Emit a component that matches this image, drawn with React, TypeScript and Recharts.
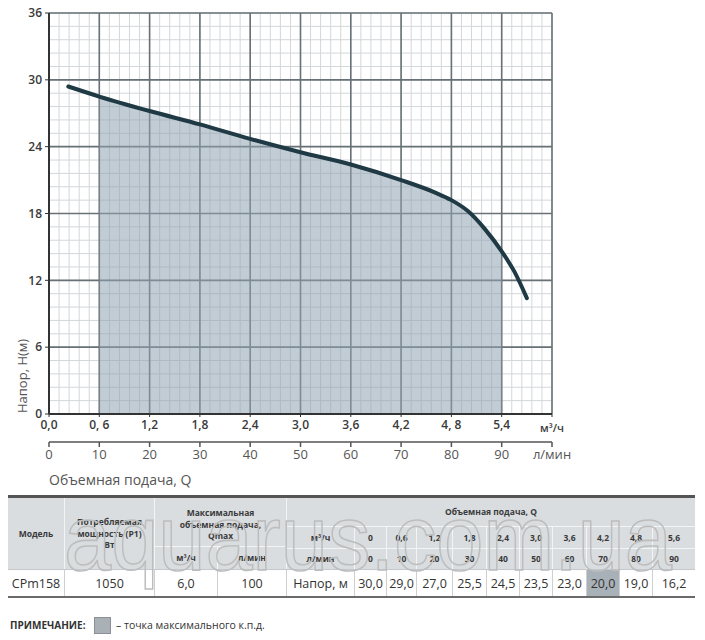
import React from 'react';
import { ComposedChart, Line, Area, XAxis, YAxis, CartesianGrid, Label } from 'recharts';

// ---- Curve data ----
const flowM3h = [0.23, 0.6, 1.2, 1.8, 2.4, 3.0, 3.6, 4.2, 4.6, 4.8, 5.0, 5.2, 5.4, 5.55, 5.7];
const headM = [29.4, 28.5, 27.2, 26.0, 24.7, 23.5, 22.4, 21.0, 19.9, 19.2, 18.2, 16.6, 14.6, 12.8, 10.4];
const shadeFrom = 0.6;
const shadeTo = 5.4;
const LPM_PER_M3H = 1000 / 60; // unit conversion m³/h -> l/min

// ---- Axis ticks ----
const xTicks = [0, 0.6, 1.2, 1.8, 2.4, 3.0, 3.6, 4.2, 4.8, 5.4, 6.0];
const xTickLabels = ['0,0', '0, 6', '1,2', '1,8', '2,4', '3,0', '3,6', '4,2', '4, 8', '5,4', 'м³/ч'];
const lpmTicks = [0, 10, 20, 30, 40, 50, 60, 70, 80, 90, 100];
const lpmTickLabels = ['0', '10', '20', '30', '40', '50', '60', '70', '80', '90', 'л/мин'];
const yTicks = [0, 6, 12, 18, 24, 30, 36];
const yTickLabels = ['0', '6', '12', '18', '24', '30', '36'];

// ---- Table data ----
const tableFlowM3h = ['0', '0,6', '1,2', '1,8', '2,4', '3,0', '3,6', '4,2', '4,8', '5,6'];
const tableFlowLpm = ['0', '10', '20', '30', '40', '50', '60', '70', '80', '90'];
const tableHead = ['30,0', '29,0', '27,0', '25,5', '24,5', '23,5', '23,0', '20,0', '19,0', '16,2'];
const bestIndex = 7;
const modelName = 'CPm158';
const powerW = '1050';
const qmaxM3h = '6,0';
const qmaxLpm = '100';

// minor grid (not data – just grid subdivisions)
const minorX = Array.from({ length: 51 }, (_, i) => Math.round(i * 12) / 100);
const minorY = Array.from({ length: 31 }, (_, i) => Math.round(i * 12) / 10);

const data = flowM3h.map((q, i) => ({
  q,
  lpm: q * LPM_PER_M3H,
  h: headM[i],
  shade: q >= shadeFrom - 1e-9 && q <= shadeTo + 1e-9 ? headM[i] : null,
}));

const FONT = '"Open Sans", "Noto Sans", sans-serif';

const QTick = (props: any) => {
  const { x, y, payload } = props;
  const i = xTicks.findIndex((t) => Math.abs(t - payload.value) < 1e-6);
  const label = xTickLabels[i] ?? '';
  const last = i === xTicks.length - 1;
  return (
    <text
      x={x}
      y={y + (last ? 4 : 0)}
      dy="0.71em"
      textAnchor="middle"
      fontSize={last ? 11 : 12}
      fontWeight={600}
      fill="#3a3a3a"
      fontFamily={FONT}
    >
      {label}
    </text>
  );
};

const LTick = (props: any) => {
  const { x, y, payload } = props;
  const i = lpmTicks.findIndex((t) => Math.abs(t - payload.value) < 1e-6);
  const label = lpmTickLabels[i] ?? '';
  return (
    <text x={x} y={y} dy="0.71em" textAnchor="middle" fontSize={13} fill="#555" fontFamily={FONT}>
      {label}
    </text>
  );
};

const YTick = (props: any) => {
  const { x, y, payload } = props;
  const i = yTicks.findIndex((t) => Math.abs(t - payload.value) < 1e-6);
  return (
    <text x={x} y={y} dy="0.35em" textAnchor="end" fontSize={12} fontWeight={600} fill="#3a3a3a" fontFamily={FONT}>
      {yTickLabels[i] ?? ''}
    </text>
  );
};

const colEdges = [355, 387, 417, 453, 487, 520, 553, 587, 620, 653, 695];

const Cell = ({ x, y, w, h, children, style }: any) => (
  <div
    style={{
      position: 'absolute',
      left: x,
      top: y,
      width: w,
      height: h,
      display: 'flex',
      alignItems: 'center',
      justifyContent: 'center',
      textAlign: 'center',
      boxSizing: 'border-box',
      ...style,
    }}
  >
    {children}
  </div>
);

const HDR_BG = '#d9dde0';
const hdrText: React.CSSProperties = { fontSize: 8.5, fontWeight: 700, color: '#3a3a3a', lineHeight: '11.5px', fontFamily: FONT };
const rowText: React.CSSProperties = { fontSize: 12.5, color: '#333', fontFamily: FONT };
const hSep = '1px solid #f2f4f5';
const rSep = '1px solid #cfcfcf';

export default function App() {
  return (
    <div style={{ position: 'absolute', left: 0, top: 0, width: 705, height: 640, background: '#fff', overflow: 'hidden' }}>
      <div style={{ position: 'absolute', left: 0, top: 0 }}>
        <ComposedChart
          width={705}
          height={506}
          data={data}
          margin={{ top: 13, right: 153, bottom: 0, left: 0 }}
          style={{ fontFamily: FONT }}
        >
          <CartesianGrid xAxisId="a" verticalValues={minorX} horizontalValues={minorY} stroke="#d2d7da" strokeWidth={1} />
          <CartesianGrid xAxisId="a" verticalValues={xTicks} horizontalValues={yTicks} stroke="#677176" strokeWidth={1.6} />
          <XAxis
            xAxisId="b"
            type="number"
            dataKey="lpm"
            domain={[0, 100]}
            ticks={lpmTicks}
            interval={0}
            allowDataOverflow
            height={64}
            tickSize={5}
            tickMargin={3}
            axisLine={{ stroke: '#555', strokeWidth: 1.5 }}
            tickLine={{ stroke: '#555', strokeWidth: 1.5 }}
            tick={<LTick />}
          >
            <Label
              content={(p: any) => {
                const vb = p.viewBox || { x: 49, y: 442 };
                return (
                  <text x={vb.x} y={vb.y + 38} dy="0.35em" fontSize={14} fill="#555" fontFamily={FONT}>
                    Объемная подача, Q
                  </text>
                );
              }}
            />
          </XAxis>
          <XAxis
            xAxisId="a"
            type="number"
            dataKey="q"
            domain={[0, 6]}
            ticks={xTicks}
            interval={0}
            allowDataOverflow
            height={28}
            tickSize={3}
            tickMargin={3}
            axisLine={{ stroke: '#333', strokeWidth: 2 }}
            tickLine={{ stroke: '#333' }}
            tick={<QTick />}
          />
          <YAxis
            type="number"
            domain={[0, 36]}
            ticks={yTicks}
            interval={0}
            allowDataOverflow
            width={49}
            tickSize={4}
            tickMargin={3}
            axisLine={{ stroke: '#333', strokeWidth: 2 }}
            tickLine={{ stroke: '#333' }}
            tick={<YTick />}
          >
            <Label
              content={(p: any) => {
                const vb = p.viewBox || { x: 0, y: 13, height: 401 };
                const bx = 27;
                const by = vb.y + vb.height - 1;
                return (
                  <text
                    x={bx}
                    y={by}
                    transform={`rotate(-90, ${bx}, ${by})`}
                    textAnchor="start"
                    fontSize={13}
                    fill="#555"
                    fontFamily={FONT}
                  >
                    Напор, H(м)
                  </text>
                );
              }}
            />
          </YAxis>
          <Area
            xAxisId="a"
            dataKey="shade"
            type="monotone"
            fill="#8fa2b0"
            fillOpacity={0.55}
            stroke="none"
            connectNulls={false}
            isAnimationActive={false}
            dot={false}
            activeDot={false}
          />
          <Line
            xAxisId="a"
            dataKey="h"
            type="monotone"
            stroke="#1f3a44"
            strokeWidth={4}
            strokeLinecap="round"
            dot={false}
            activeDot={false}
            isAnimationActive={false}
          />
        </ComposedChart>
      </div>

      {/* ---- Table ---- */}
      <div style={{ position: 'absolute', left: 8, top: 495, width: 687, height: 3, background: '#555' }} />
      <div style={{ position: 'absolute', left: 8, top: 498, width: 687, height: 71, background: HDR_BG }} />
      <Cell x={8} y={498} w={57} h={71} style={{ ...hdrText, borderRight: hSep }}>Модель</Cell>
      <Cell x={65} y={498} w={90} h={71} style={{ ...hdrText, borderRight: hSep }}>
        Потребляемая<br />мощность (P1)<br />Вт
      </Cell>
      <Cell x={155} y={498} w={132} h={49} style={{ ...hdrText, borderRight: hSep, borderBottom: hSep, alignItems: 'flex-start', paddingTop: 9 }}>
        Максимальная<br />объемная подача,<br />Qmax
      </Cell>
      <Cell x={155} y={547} w={63} h={22} style={{ ...hdrText, borderRight: hSep }}>м³/ч</Cell>
      <Cell x={218} y={547} w={69} h={22} style={{ ...hdrText, borderRight: hSep }}>л/мин</Cell>
      <Cell x={287} y={498} w={408} h={29} style={{ ...hdrText, borderBottom: hSep }}>Объемная подача, Q</Cell>
      <Cell x={287} y={527} w={68} h={22} style={{ ...hdrText, borderRight: hSep, borderBottom: hSep }}>м³/ч</Cell>
      <Cell x={287} y={549} w={68} h={20} style={{ ...hdrText, borderRight: hSep }}>л/мин</Cell>
      {tableFlowM3h.map((v, i) => (
        <Cell key={'m' + i} x={colEdges[i]} y={527} w={colEdges[i + 1] - colEdges[i]} h={22}
          style={{ ...hdrText, borderRight: i < 9 ? hSep : 'none', borderBottom: hSep }}>{v}</Cell>
      ))}
      {tableFlowLpm.map((v, i) => (
        <Cell key={'l' + i} x={colEdges[i]} y={549} w={colEdges[i + 1] - colEdges[i]} h={20}
          style={{ ...hdrText, borderRight: i < 9 ? hSep : 'none' }}>{v}</Cell>
      ))}

      {/* data row */}
      <div style={{ position: 'absolute', left: 8, top: 569, width: 687, height: 1, background: '#c4c8cb' }} />
      <Cell x={8} y={570} w={57} h={26} style={{ ...rowText, borderRight: rSep }}>{modelName}</Cell>
      <Cell x={65} y={570} w={90} h={26} style={{ ...rowText, borderRight: rSep }}>{powerW}</Cell>
      <Cell x={155} y={570} w={63} h={26} style={{ ...rowText, borderRight: rSep }}>{qmaxM3h}</Cell>
      <Cell x={218} y={570} w={69} h={26} style={{ ...rowText, borderRight: rSep }}>{qmaxLpm}</Cell>
      <Cell x={287} y={570} w={68} h={26} style={{ ...rowText, borderRight: rSep }}>Напор, м</Cell>
      {tableHead.map((v, i) => (
        <Cell key={'h' + i} x={colEdges[i]} y={570} w={colEdges[i + 1] - colEdges[i]} h={26}
          style={{ ...rowText, borderRight: i < 9 ? rSep : 'none', background: i === bestIndex ? '#a9b1b8' : 'transparent' }}>{v}</Cell>
      ))}
      <div style={{ position: 'absolute', left: 8, top: 596, width: 687, height: 2, background: '#6a6a6a' }} />

      {/* watermark */}
      <svg style={{ position: 'absolute', left: 0, top: 490, pointerEvents: 'none' }} width={705} height={110}>
        <text
          x={64}
          y={80}
          fontSize={92}
          fontFamily='"Liberation Sans", Arial, sans-serif'
          fill="none"
          stroke="#bdbdbd"
          strokeWidth={1.6}
          textLength={608}
          lengthAdjust="spacingAndGlyphs"
        >
          aquarus.com.ua
        </text>
      </svg>

      {/* note */}
      <div style={{ position: 'absolute', left: 10, top: 617, height: 16, display: 'flex', alignItems: 'center', fontFamily: FONT, fontSize: 10, color: '#333' }}>
        <span style={{ fontWeight: 700 }}>ПРИМЕЧАНИЕ:</span>
      </div>
      <div style={{ position: 'absolute', left: 94, top: 617, width: 15, height: 15, background: '#a9b0b6', border: '1px solid #8a9096' }} />
      <div style={{ position: 'absolute', left: 116, top: 617, height: 16, display: 'flex', alignItems: 'center', fontFamily: FONT, fontSize: 10.5, color: '#333' }}>
        – точка максимального к.п.д.
      </div>
    </div>
  );
}
